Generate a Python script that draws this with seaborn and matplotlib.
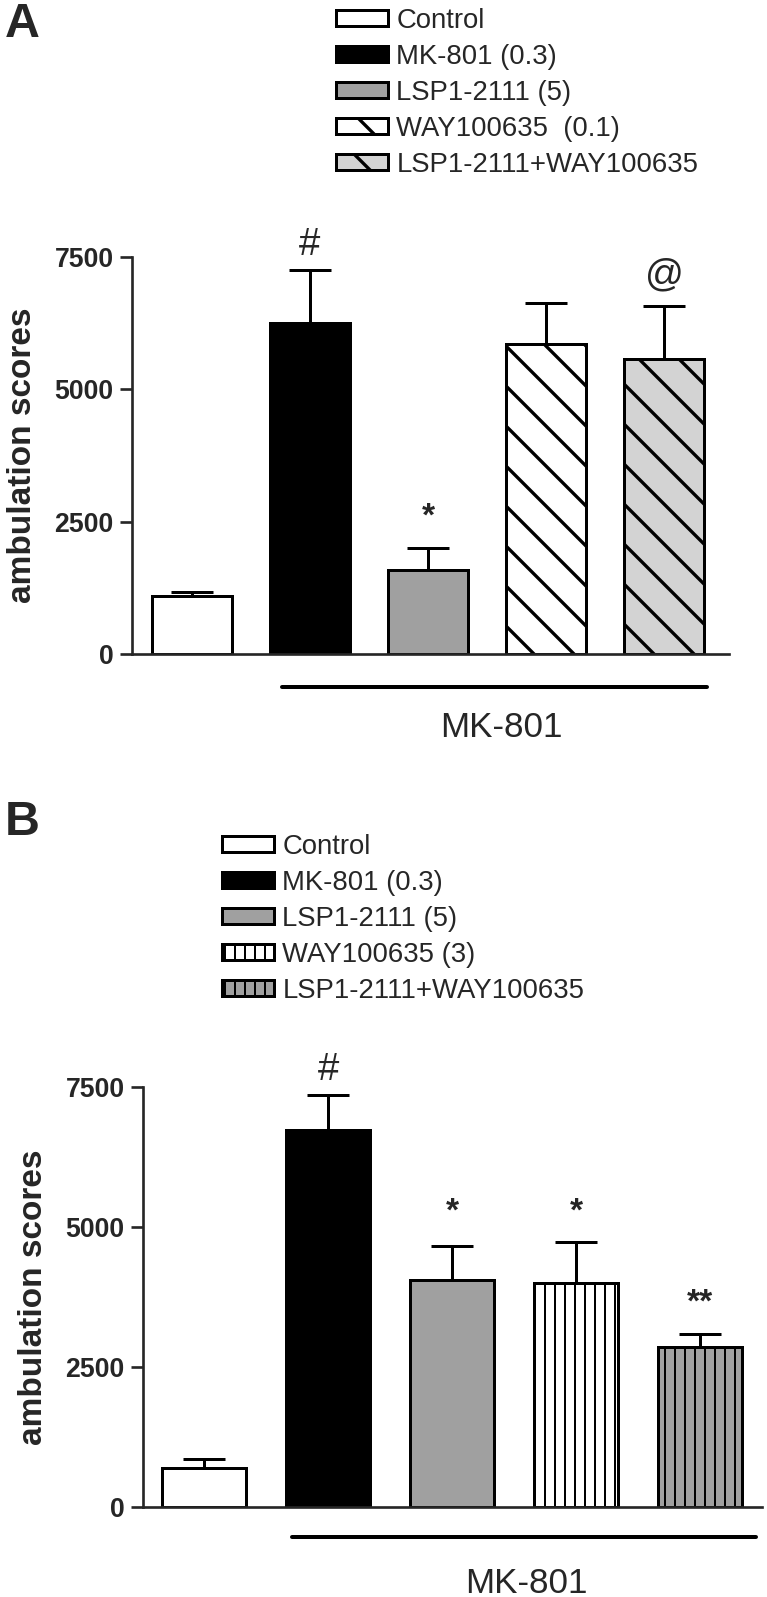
import numpy as np
import pandas as pd
import matplotlib
matplotlib.use("Agg")
import matplotlib.pyplot as plt
from matplotlib.patches import Patch
import seaborn as sns

# valori (media + errore, solo verso l'alto)
groups_a = ["Control", "MK-801 (0.3)", "LSP1-2111 (5)", "WAY100635  (0.1)", "LSP1-2111+WAY100635"]
means_a = [1100, 6250, 1590, 5865, 5575]
sem_a = [70, 1000, 415, 765, 990]
marks_a = ["", "#", "*", "", "@"]
mark_y_a = [0, 7730, 2590, 0, 7150]

groups_b = ["Control", "MK-801 (0.3)", "LSP1-2111 (5)", "WAY100635 (3)", "LSP1-2111+WAY100635"]
means_b = [690, 6725, 4050, 4000, 2850]
sem_b = [165, 635, 615, 735, 240]
marks_b = ["", "#", "*", "*", "**"]
mark_y_b = [0, 7800, 5270, 5270, 3640]

yticks = [0, 2500, 5000, 7500]

colors_a = ["white", "black", "#a0a0a0", "white", "#d3d3d3"]
hatches_a = ["", "", "", "\\", "\\"]
colors_b = ["white", "black", "#a0a0a0", "white", "#a0a0a0"]
hatches_b = ["", "", "", "||", "||"]

sns.set_style("ticks")
plt.rcParams["font.family"] = ["Liberation Sans", "DejaVu Sans"]

W, H = 767, 1597
fig = plt.figure(figsize=(W / 120, H / 120), dpi=120)


def px_axes(left, right, top, bottom):
    return fig.add_axes([left / W, 1 - bottom / H, (right - left) / W, (bottom - top) / H])


def draw_panel(ax, groups, means, sems, colors, hatches, hatch_lw, marks, mark_y,
               xlim, line_x, line_y, text_x, text_y, text_va):
    plt.rcParams["hatch.linewidth"] = hatch_lw
    df = pd.DataFrame({"group": groups, "value": means})
    sns.barplot(data=df, x="group", y="value", hue="group", palette=colors,
                order=groups, hue_order=groups, width=0.675, edgecolor="black",
                linewidth=1.8, legend=False, ax=ax)
    for patch, h in zip(ax.patches, hatches):
        if h:
            patch.set_hatch(h)
            if hasattr(patch, "set_hatch_linewidth"):
                patch.set_hatch_linewidth(hatch_lw)
    xs = np.arange(len(groups))
    ax.errorbar(xs, means, yerr=[np.zeros(len(sems)), sems], fmt="none",
                ecolor="black", elinewidth=1.8, capsize=12.5, capthick=1.8, zorder=1)
    for x, m, y in zip(xs, marks, mark_y):
        if m:
            star = "*" in m
            ax.text(x, y, m, ha="center", va="center", fontsize=20 if star else 23,
                    fontweight="bold" if star else "normal", clip_on=False)
    ax.set_xlim(*xlim)
    ax.set_ylim(0, 7500)
    ax.set_yticks(yticks)
    ax.set_yticklabels([str(t) for t in yticks], fontsize=16, fontweight="bold")
    ax.set_xticks([])
    ax.set_xlabel("")
    ax.set_ylabel("ambulation scores", fontsize=20, fontweight="bold", labelpad=10)
    ax.tick_params(axis="y", length=7, width=1.6, pad=4)
    for s in ["left", "bottom"]:
        ax.spines[s].set_linewidth(1.6)
    sns.despine(ax=ax)
    tr = ax.get_xaxis_transform()
    ax.plot(line_x, [line_y, line_y], color="black", lw=2.4, transform=tr,
            clip_on=False, solid_capstyle="round")
    ax.text(text_x, text_y, "MK-801", transform=tr, ha="center", va=text_va,
            fontsize=21, clip_on=False)


def add_legend(groups, colors, hatches, hatch_lw, x_left, y_top):
    plt.rcParams["hatch.linewidth"] = hatch_lw
    handles = []
    for c, h in zip(colors, hatches):
        p = Patch(facecolor=c, edgecolor="black", hatch=h, linewidth=1.8)
        if h and hasattr(p, "set_hatch_linewidth"):
            p.set_hatch_linewidth(hatch_lw)
        handles.append(p)
    fig.legend(handles, groups, loc="upper left",
               bbox_to_anchor=(x_left / W, 1 - y_top / H), frameon=False,
               fontsize=16.5, handlelength=1.9, handleheight=0.5,
               handletextpad=0.3, labelspacing=0.36, borderpad=0, borderaxespad=0)


# pannello A
ax_a = px_axes(132, 729, 257, 654)
draw_panel(ax_a, groups_a, means_a, sem_a, colors_a, hatches_a, 2.0, marks_a, mark_y_a,
           (-0.508, 4.55), [0.76, 4.36], -0.082, 2.62, -0.186, "center")
add_legend(groups_a, colors_a, hatches_a, 2.0, 336, 8)
fig.text(5 / W, 1 - 2 / H, "A", fontsize=29, fontweight="bold", ha="left", va="top")

# pannello B
ax_b = px_axes(143, 762, 1087, 1507)
draw_panel(ax_b, groups_b, means_b, sem_b, colors_b, hatches_b, 1.2, marks_b, mark_y_b,
           (-0.494, 4.5), [0.71, 4.45], -0.072, 2.6, -0.143, "top")
add_legend(groups_b, colors_b, hatches_b, 1.2, 222, 834)
fig.text(5 / W, 1 - 800 / H, "B", fontsize=29, fontweight="bold", ha="left", va="top")

fig.savefig("out.png", dpi=120)
